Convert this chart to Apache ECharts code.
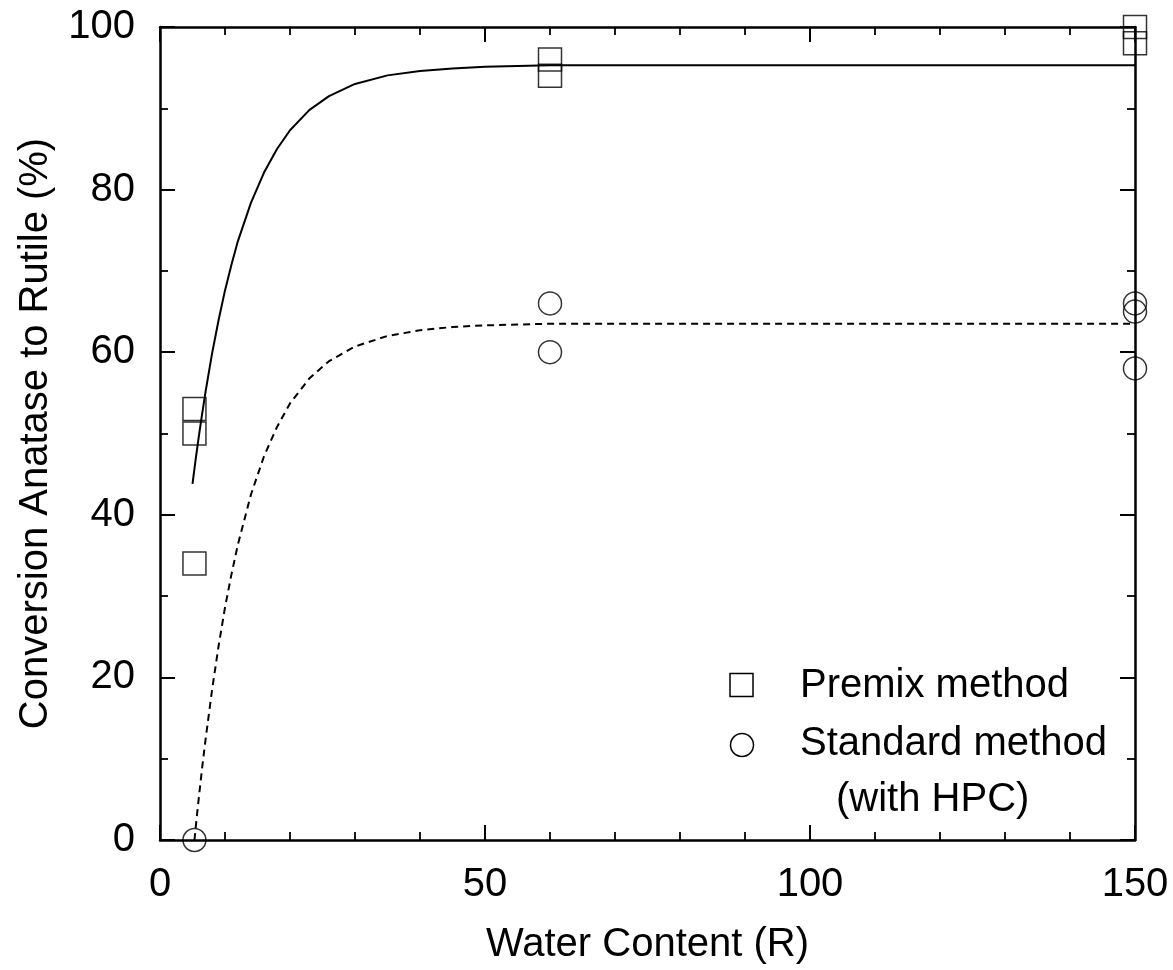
<!DOCTYPE html>
<html>
<head>
<meta charset="utf-8">
<script src="https://cdn.jsdelivr.net/npm/echarts@6/dist/echarts.min.js"></script>
<style>html,body{margin:0;padding:0;background:#fff}#c{width:1173px;height:970px}</style>
</head>
<body>
<div id="c"></div>
<script>
// Measured points
const premix = [[5.3, 53], [5.3, 50], [5.3, 34], [60, 96], [60, 94], [150, 100], [150, 98]];
const standard = [[5.3, 0], [60, 66], [60, 60], [150, 66], [150, 65], [150, 58]];
// Fitted curves
const premixFit = [[5, 43.8], [5.5, 46.9], [6, 49.8], [6.5, 52.5], [7, 55.1], [8, 59.8], [9, 63.9], [10, 67.6], [11, 70.8], [12, 73.7], [14, 78.4], [16, 82.1], [18, 85.0], [20, 87.3], [23, 89.8], [26, 91.5], [30, 93.0], [35, 94.05], [40, 94.6], [45, 94.9], [50, 95.1], [60, 95.3], [150, 95.3]];
const standardFit = [[5.3, 0], [5.6, 2.4], [6, 5.4], [6.5, 9.0], [7, 12.3], [8, 18.4], [9, 23.8], [10, 28.6], [11, 32.7], [12, 36.4], [14, 42.5], [16, 47.2], [18, 50.8], [20, 53.7], [23, 56.8], [26, 58.9], [30, 60.7], [35, 62.0], [40, 62.7], [45, 63.1], [50, 63.3], [60, 63.5], [150, 63.5]];
const xTicks = [0, 50, 100, 150];
const yTicks = [0, 20, 40, 60, 80, 100];
const xName = 'Water Content (R)';
const yName = 'Conversion Anatase to Rutile (%)';
const legendNames = ['Premix method', 'Standard method', '(with HPC)'];

const FONT = '"Liberation Sans", Arial, Helvetica, sans-serif';
const chart = echarts.init(document.getElementById('c'));
const axisLine = {show: true, onZero: false, lineStyle: {color: '#000', width: 2.5}};
const tick = {show: true, inside: true, length: 15, lineStyle: {color: '#000', width: 2}};
const minor = {show: true, length: 8, lineStyle: {color: '#000', width: 1.8}};
const lab = {color: '#000', fontSize: 40, fontFamily: FONT};
const sym = {color: 'rgba(0,0,0,0)', borderColor: '#000', borderWidth: 1.5};
const nameStyle = {color: '#000', fontSize: 40, fontFamily: FONT};

chart.setOption({
  animation: false,
  backgroundColor: '#fff',
  grid: {left: 160, right: 38, top: 27, bottom: 130},
  xAxis: [
    {type: 'value', min: 0, max: 150, interval: 50, position: 'bottom',
     name: xName, nameLocation: 'middle', nameGap: 85, nameTextStyle: nameStyle,
     axisLine, axisTick: tick, minorTick: Object.assign({splitNumber: 5}, minor),
     splitLine: {show: false},
     axisLabel: Object.assign({margin: 25, formatter: v => xTicks.includes(v) ? String(v) : ''}, lab)},
    {type: 'value', min: 0, max: 150, interval: 50, position: 'top',
     axisLine, axisTick: tick, minorTick: Object.assign({splitNumber: 5}, minor),
     splitLine: {show: false}, axisLabel: {show: false}}
  ],
  yAxis: [
    {type: 'value', min: 0, max: 100, interval: 20, position: 'left',
     name: yName, nameLocation: 'middle', nameGap: 104, nameRotate: 90, nameTextStyle: nameStyle,
     axisLine, axisTick: tick, minorTick: Object.assign({splitNumber: 2}, minor),
     splitLine: {show: false},
     axisLabel: Object.assign({margin: 25, formatter: v => yTicks.includes(v) ? String(v) : ''}, lab)},
    {type: 'value', min: 0, max: 100, interval: 20, position: 'right',
     axisLine, axisTick: tick, minorTick: Object.assign({splitNumber: 2}, minor),
     splitLine: {show: false}, axisLabel: {show: false}}
  ],
  series: [
    {type: 'line', data: premixFit, showSymbol: false, symbol: 'none', smooth: false,
     lineStyle: {color: '#000', width: 2}, z: 2},
    {type: 'line', data: standardFit, showSymbol: false, symbol: 'none', smooth: false,
     lineStyle: {color: '#000', width: 2, type: [7, 5]}, z: 2},
    {type: 'scatter', data: premix, symbol: 'rect', symbolSize: 23, clip: false, itemStyle: sym, z: 3},
    {type: 'scatter', data: standard, symbol: 'circle', symbolSize: 23, clip: false, itemStyle: sym, z: 3}
  ],
  graphic: [
    {type: 'rect', shape: {x: 730, y: 673.5, width: 23, height: 23}, style: {fill: 'none', stroke: '#000', lineWidth: 1.5}},
    {type: 'circle', shape: {cx: 742, cy: 745, r: 11.5}, style: {fill: 'none', stroke: '#000', lineWidth: 1.5}},
    {type: 'text', x: 800, y: 686, style: {text: legendNames[0], fill: '#000', font: '40px ' + FONT, textVerticalAlign: 'middle'}},
    {type: 'text', x: 800, y: 744, style: {text: legendNames[1], fill: '#000', font: '40px ' + FONT, textVerticalAlign: 'middle'}},
    {type: 'text', x: 836, y: 800, style: {text: legendNames[2], fill: '#000', font: '40px ' + FONT, textVerticalAlign: 'middle'}}
  ]
});
</script>
</body>
</html>
